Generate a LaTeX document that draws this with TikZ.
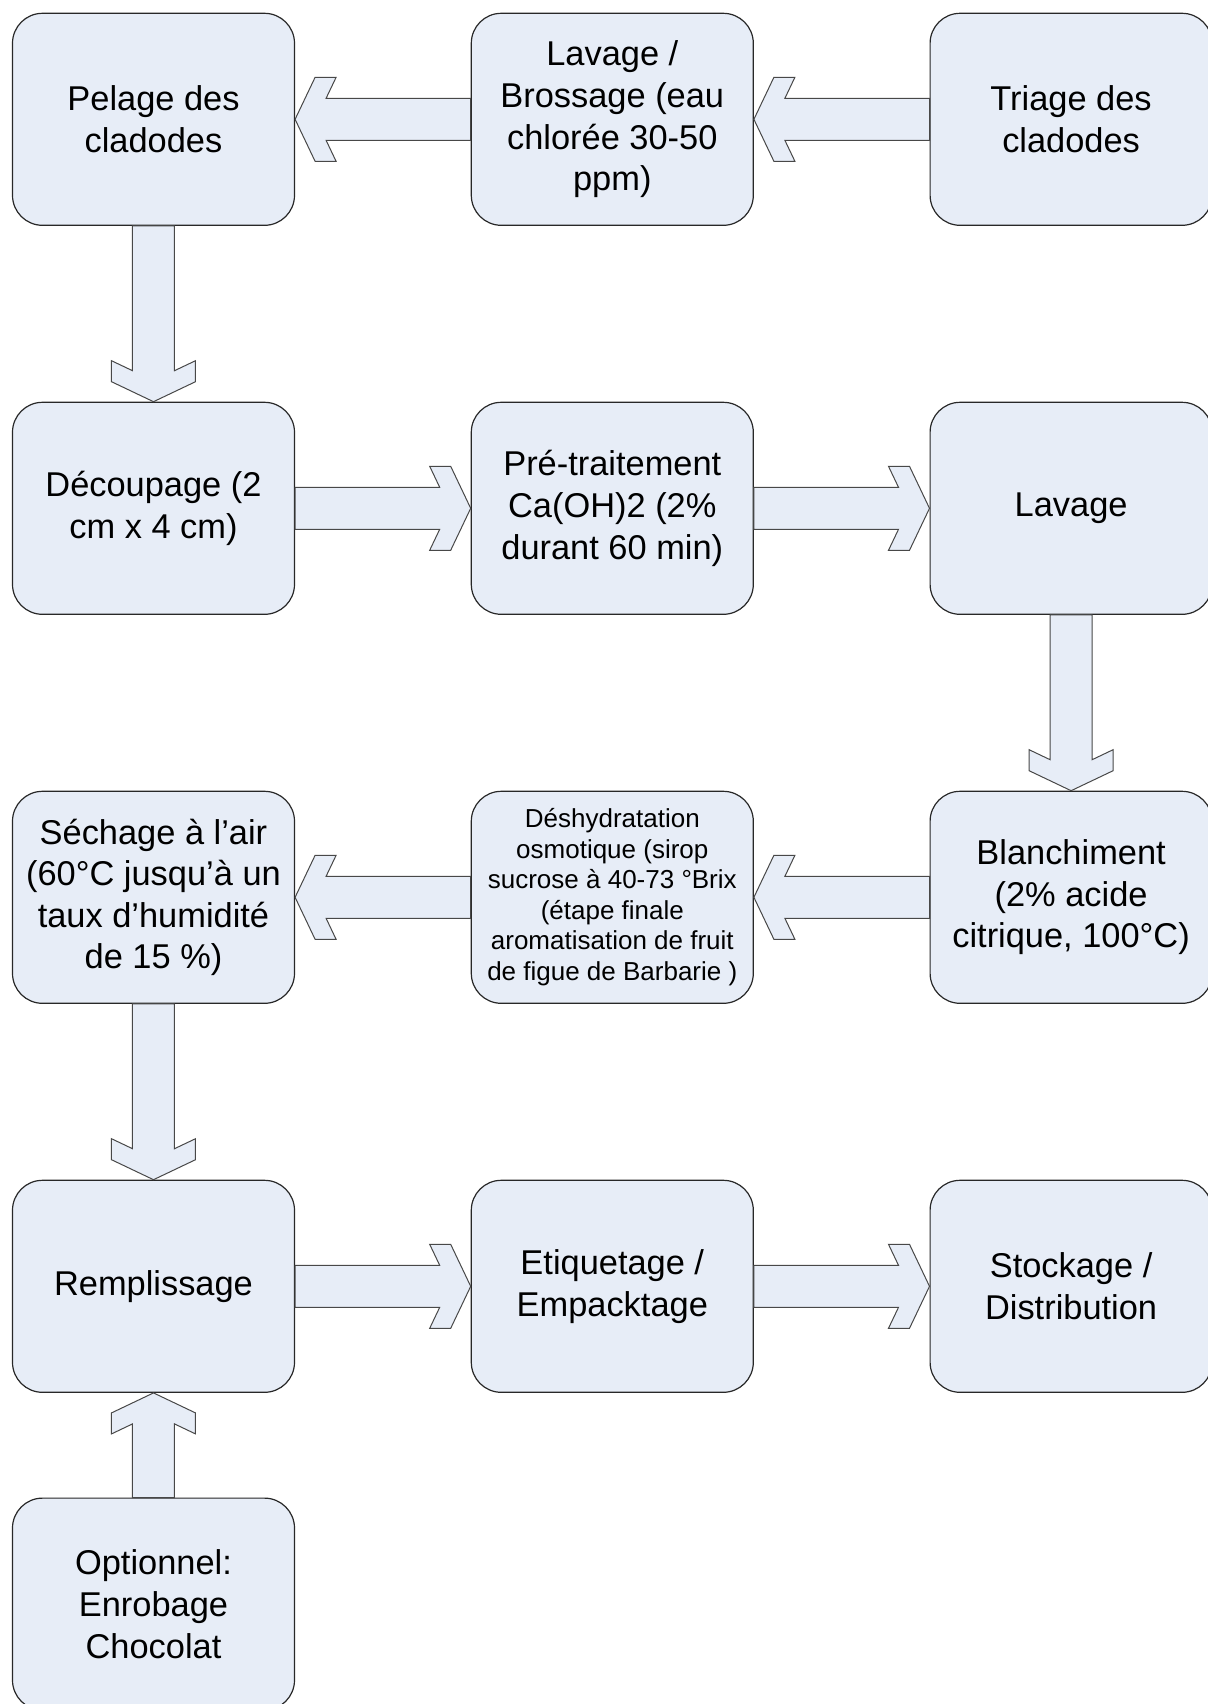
\documentclass[tikz,border=0pt]{standalone}
\usepackage{fontspec}
\setmainfont{Liberation Sans}
\usepackage{xcolor}
\usepackage{tikz}
\usetikzlibrary{calc}

\definecolor{boxfill}{RGB}{231,237,247}
\definecolor{boxline}{RGB}{40,40,40}

% block arrow from #1 to #2
\newcommand{\blockarrow}[2]{%
  \draw[arrowline] let \p1=($(#2)-(#1)$), \n1={veclen(\x1,\y1)}, \n2={atan2(\y1,\x1)} in
    [shift={(#1)}, rotate=\n2]
    (0pt,10.5pt) -- ({\n1-15.5pt},10.5pt) -- ({\n1-20.5pt},21pt) -- ({\n1-10pt},21pt)
    -- ({\n1},0pt) -- ({\n1-10pt},-21pt) -- ({\n1-20.5pt},-21pt) -- ({\n1-15.5pt},-10.5pt)
    -- (0pt,-10.5pt) -- cycle;
}

\begin{document}
\begin{tikzpicture}[x=229.4pt, y=-194.5pt,
    box/.style={draw=boxline, line width=0.6pt, fill=boxfill, rounded corners=15pt,
      minimum width=141pt, minimum height=106pt, align=center,
      font=\fontsize{17.2}{20.8}\selectfont},
    small/.style={font=\fontsize{13}{15.25}\selectfont},
    arrowline/.style={draw=boxline!85, line width=0.5pt, fill=boxfill}]
                                \useasboundingbox (-76.75pt, 59.65pt) rectangle (527.25pt, -792.35pt);

                                \node (0) at (0, 0) [box] {Pelage des\\cladodes};
                                \node (1) at (1, 0) [box] {Lavage /\\Brossage (eau\\chlorée 30-50\\ppm)};
                                \node (2) at (2, 0) [box] {Triage des\\cladodes};
                                \node (3) at (0, 1) [box] {Découpage (2\\cm x 4 cm)};
                                \node (4) at (1, 1) [box] {Pré-traitement\\Ca(OH)2 (2\%\\durant 60 min)};
                                \node (5) at (2, 1) [box] {Lavage};
                                \node (6) at (0, 2) [box] {Séchage à l’air\\(60°C jusqu’à un\\taux d’humidité\\de 15 \%)};
                                \node (7) at (1, 2) [box, small] {Déshydratation\\osmotique (sirop\\sucrose à 40-73 °Brix\\(étape finale\\aromatisation de fruit\\de figue de Barbarie )};
                                \node (8) at (2, 2) [box] {Blanchiment\\(2\% acide\\citrique, 100°C)};
                                \node (9) at (0, 3) [box] {Remplissage};
                                \node (10) at (1, 3) [box] {Etiquetage /\\Empacktage};
                                \node (11) at (2, 3) [box] {Stockage /\\Distribution};
                                \node (12) at (0, 3.817) [box] {Optionnel:\\Enrobage\\Chocolat};

                                \blockarrow{2.west}{1.east}
                                \blockarrow{1.west}{0.east}
                                \blockarrow{0.south}{3.north}
                                \blockarrow{3.east}{4.west}
                                \blockarrow{4.east}{5.west}
                                \blockarrow{5.south}{8.north}
                                \blockarrow{8.west}{7.east}
                                \blockarrow{7.west}{6.east}
                                \blockarrow{6.south}{9.north}
                                \blockarrow{9.east}{10.west}
                                \blockarrow{10.east}{11.west}
                                \blockarrow{12.north}{9.south}
                            \end{tikzpicture}
\end{document}
